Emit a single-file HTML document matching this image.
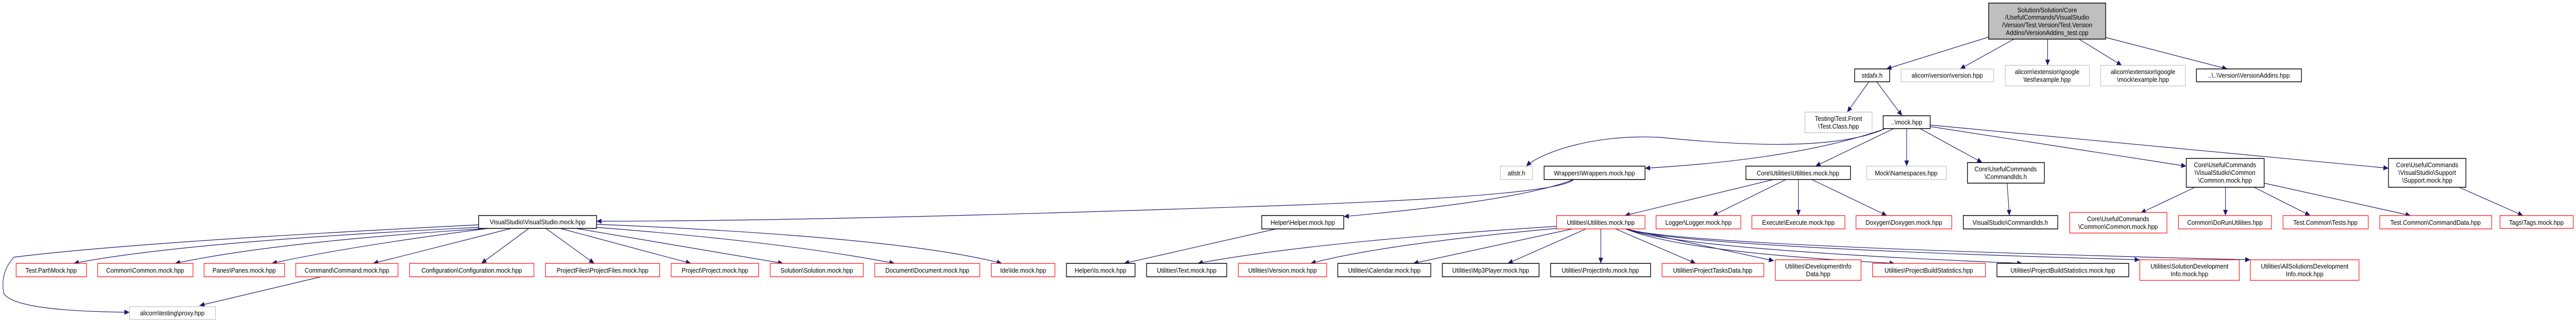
<!DOCTYPE html>
<html><head><meta charset="utf-8"><style>
html,body{margin:0;padding:0;background:#fff;width:100%;height:100%;overflow:hidden}
svg{display:block;overflow:hidden;width:100vw;height:100vh;position:absolute;left:0;top:0}
text{font-family:"Liberation Sans","DejaVu Sans",sans-serif;font-size:13px;fill:#000;text-anchor:middle}
.k{fill:#fff;stroke:#000;stroke-width:1.5}
.r{fill:#fff;stroke:#ff0000;stroke-width:1.2}
.g{fill:#fff;stroke:#bfbfbf;stroke-width:1.2}
path.e{fill:none;stroke:#191970;stroke-width:1.2}
</style></head><body>
<svg viewBox="0 0 5592 624" preserveAspectRatio="none" xmlns="http://www.w3.org/2000/svg">
<defs><marker id="a" markerUnits="userSpaceOnUse" markerWidth="12" markerHeight="10" refX="11" refY="5" orient="auto"><path d="M0,0 L11,5 L0,10 z" fill="#191970"/></marker></defs>
<g marker-end="url(#a)">
<path class="e" d="M4317,72 Q4180,110 4095,134"/>
<path class="e" d="M4372,76 L4255,134"/>
<path class="e" d="M4445,76 L4445,127"/>
<path class="e" d="M4513,76 L4606,127"/>
<path class="e" d="M4572,73 L4835,134"/>
<path class="e" d="M4057,159 L4010,218"/>
<path class="e" d="M4074,159 L4129,225"/>
<path class="e" d="M4090,251 C3990,290 3800,285 3604,267 C3450,260 3340,300 3313,323"/>
<path class="e" d="M4090,251 Q3900,310 3571,327"/>
<path class="e" d="M4111,250 L3941,323"/>
<path class="e" d="M4139,250 L4139,323"/>
<path class="e" d="M4168,250 L4303,316"/>
<path class="e" d="M4190,246 L4746,323"/>
<path class="e" d="M4190,243 L5185,327"/>
<path class="e" d="M3416,349 Q3380,380 2800,399 Q1800,430 1295,430"/>
<path class="e" d="M3416,349 Q3300,390 2917,421"/>
<path class="e" d="M2770,445 L2440,512"/>
<path class="e" d="M3379,440 Q2850,470 2600,512"/>
<path class="e" d="M3379,444 Q3000,475 2845,512"/>
<path class="e" d="M3413,445 L3068,512"/>
<path class="e" d="M3443,445 L3273,512"/>
<path class="e" d="M3475,445 L3475,512"/>
<path class="e" d="M3507,445 L3681,512"/>
<path class="e" d="M3529,445 L3851,507"/>
<path class="e" d="M3529,445 Q3650,490 4113,512"/>
<path class="e" d="M3529,445 Q3650,485 4390,512"/>
<path class="e" d="M3529,445 Q3650,480 4645,505"/>
<path class="e" d="M3529,445 Q3650,478 4885,505"/>
<path class="e" d="M3850,349 L3527,419"/>
<path class="e" d="M3877,349 L3718,419"/>
<path class="e" d="M3904,349 L3904,419"/>
<path class="e" d="M3933,349 L4096,419"/>
<path class="e" d="M4357,356 L4362,419"/>
<path class="e" d="M4765,364 L4647,414"/>
<path class="e" d="M4831,364 L4831,419"/>
<path class="e" d="M4893,364 L5015,419"/>
<path class="e" d="M4915,356 L5233,419"/>
<path class="e" d="M5338,364 L5477,419"/>
<path class="e" d="M1039,437 Q300,470 30,500 Q0,530 8,570 Q30,605 281,607"/>
<path class="e" d="M1039,442 Q400,470 160,512"/>
<path class="e" d="M1060,444 Q600,470 380,512"/>
<path class="e" d="M1060,444 Q750,480 590,512"/>
<path class="e" d="M1110,444 L810,512"/>
<path class="e" d="M1148,444 L1045,512"/>
<path class="e" d="M1185,444 L1290,512"/>
<path class="e" d="M1216,444 L1500,512"/>
<path class="e" d="M1250,444 L1700,512"/>
<path class="e" d="M1295,442 Q1700,470 1942,512"/>
<path class="e" d="M1295,436 Q1950,460 2175,512"/>
<path class="e" d="M697,538 L433,594"/>
</g>
<rect x="4317" y="6" width="254" height="70" fill="#bfbfbf" stroke="#000" stroke-width="1.5"/>
<text x="4444" y="24">Solution/Solution/Core</text><text x="4444" y="38">/UsefulCommands/VisualStudio</text><text x="4444" y="53">/Version/Test.Version/Test.Version</text><text x="4444" y="68">Addins/VersionAddins_test.cpp</text>

<rect class="k" x="4026" y="134" width="76" height="25"/><text x="4064" y="151">stdafx.h</text>
<rect class="g" x="4127" y="134" width="201" height="25"/><text x="4227" y="151">alicorn\version\version.hpp</text>
<rect class="g" x="4353" y="127" width="183" height="40"/><text x="4444" y="144">alicorn\extension\google</text><text x="4444" y="159">\test\example.hpp</text>
<rect class="g" x="4560" y="127" width="184" height="40"/><text x="4652" y="144">alicorn\extension\google</text><text x="4652" y="159">\mock\example.hpp</text>
<rect class="k" x="4768" y="134" width="228" height="25"/><text x="4882" y="151">..\..\Version\VersionAddins.hpp</text>

<rect class="g" x="3918" y="218" width="146" height="40"/><text x="3991" y="235">Testing\Test.Front</text><text x="3991" y="250">\Test.Class.hpp</text>
<rect class="k" x="4088" y="225" width="102" height="25"/><text x="4139" y="242">..\mock.hpp</text>

<rect class="g" x="3257" y="323" width="70" height="26"/><text x="3292" y="341">atlstr.h</text>
<rect class="k" x="3352" y="323" width="219" height="26"/><text x="3461" y="341">Wrappers\Wrappers.mock.hpp</text>
<rect class="k" x="3790" y="323" width="227" height="26"/><text x="3903" y="341">Core\Utilities\Utilities.mock.hpp</text>
<rect class="g" x="4052" y="323" width="173" height="26"/><text x="4138" y="341">Mock\Namespaces.hpp</text>
<rect class="k" x="4271" y="316" width="167" height="40"/><text x="4354" y="333">Core\UsefulCommands</text><text x="4354" y="348">\CommandIds.h</text>
<rect class="k" x="4746" y="308" width="169" height="56"/><text x="4830" y="325">Core\UsefulCommands</text><text x="4830" y="340">\VisualStudio\Common</text><text x="4830" y="355">\Common.mock.hpp</text>
<rect class="k" x="5185" y="308" width="168" height="56"/><text x="5269" y="325">Core\UsefulCommands</text><text x="5269" y="340">\VisualStudio\Support</text><text x="5269" y="355">\Support.mock.hpp</text>

<rect class="k" x="1039" y="419" width="256" height="25"/><text x="1167" y="436">VisualStudio\VisualStudio.mock.hpp</text>
<rect class="k" x="2739" y="419" width="178" height="26"/><text x="2828" y="437">Helper\Helper.mock.hpp</text>
<rect class="r" x="3379" y="419" width="192" height="26"/><text x="3475" y="437">Utilities\Utilities.mock.hpp</text>
<rect class="r" x="3595" y="419" width="184" height="26"/><text x="3687" y="437">Logger\Logger.mock.hpp</text>
<rect class="r" x="3803" y="419" width="202" height="26"/><text x="3904" y="437">Execute\Execute.mock.hpp</text>
<rect class="r" x="4029" y="419" width="208" height="26"/><text x="4133" y="437">Doxygen\Doxygen.mock.hpp</text>
<rect class="k" x="4262" y="419" width="205" height="26"/><text x="4364" y="437">VisualStudio\CommandIds.h</text>
<rect class="r" x="4493" y="413" width="211" height="40"/><text x="4598" y="430">Core\UsefulCommands</text><text x="4598" y="445">\Common\Common.mock.hpp</text>
<rect class="r" x="4729" y="419" width="202" height="26"/><text x="4830" y="437">Common\DoRunUtilities.hpp</text>
<rect class="r" x="4956" y="419" width="185" height="26"/><text x="5048" y="437">Test.Common\Tests.hpp</text>
<rect class="r" x="5166" y="419" width="243" height="26"/><text x="5287" y="437">Test.Common\CommandData.hpp</text>
<rect class="r" x="5427" y="419" width="159" height="25"/><text x="5506" y="437">Tags\Tags.mock.hpp</text>

<rect class="r" x="35" y="512" width="153" height="26"/><text x="111" y="530">Test.Part\Mock.hpp</text>
<rect class="r" x="212" y="512" width="207" height="26"/><text x="315" y="530">Common\Common.mock.hpp</text>
<rect class="r" x="443" y="512" width="175" height="26"/><text x="530" y="530">Panes\Panes.mock.hpp</text>
<rect class="r" x="642" y="512" width="222" height="26"/><text x="753" y="530">Command\Command.mock.hpp</text>
<rect class="r" x="889" y="512" width="270" height="26"/><text x="1024" y="530">Configuration\Configuration.mock.hpp</text>
<rect class="r" x="1184" y="512" width="248" height="26"/><text x="1308" y="530">ProjectFiles\ProjectFiles.mock.hpp</text>
<rect class="r" x="1457" y="512" width="190" height="26"/><text x="1552" y="530">Project\Project.mock.hpp</text>
<rect class="r" x="1672" y="512" width="202" height="26"/><text x="1773" y="530">Solution\Solution.mock.hpp</text>
<rect class="r" x="1899" y="512" width="228" height="26"/><text x="2013" y="530">Document\Document.mock.hpp</text>
<rect class="r" x="2152" y="512" width="138" height="26"/><text x="2221" y="530">Ide\Ide.mock.hpp</text>
<rect class="k" x="2315" y="512" width="149" height="26"/><text x="2389" y="530">Helper\Is.mock.hpp</text>
<rect class="k" x="2489" y="512" width="174" height="26"/><text x="2576" y="530">Utilities\Text.mock.hpp</text>
<rect class="r" x="2688" y="512" width="192" height="26"/><text x="2784" y="530">Utilities\Version.mock.hpp</text>
<rect class="k" x="2904" y="512" width="202" height="26"/><text x="3005" y="530">Utilities\Calendar.mock.hpp</text>
<rect class="k" x="3131" y="512" width="210" height="26"/><text x="3236" y="530">Utilities\Mp3Player.mock.hpp</text>
<rect class="k" x="3366" y="512" width="217" height="26"/><text x="3474" y="530">Utilities\ProjectInfo.mock.hpp</text>
<rect class="r" x="3608" y="512" width="221" height="26"/><text x="3718" y="530">Utilities\ProjectTasksData.hpp</text>
<rect class="r" x="3854" y="505" width="186" height="40"/><text x="3947" y="522">Utilities\DevelopmentInfo</text><text x="3947" y="537">Data.hpp</text>
<rect class="r" x="4065" y="512" width="245" height="26"/><text x="4187" y="530">Utilities\ProjectBuildStatistics.hpp</text>
<rect class="k" x="4335" y="512" width="286" height="26"/><text x="4478" y="530">Utilities\ProjectBuildStatistics.mock.hpp</text>
<rect class="r" x="4645" y="505" width="216" height="40"/><text x="4753" y="522">Utilities\SolutionDevelopment</text><text x="4753" y="537">Info.mock.hpp</text>
<rect class="r" x="4885" y="505" width="236" height="40"/><text x="5003" y="522">Utilities\AllSolutionsDevelopment</text><text x="5003" y="537">Info.mock.hpp</text>

<rect class="g" x="281" y="596" width="187" height="25"/><text x="374" y="613">alicorn\testing\proxy.hpp</text>
</svg>
</body></html>
